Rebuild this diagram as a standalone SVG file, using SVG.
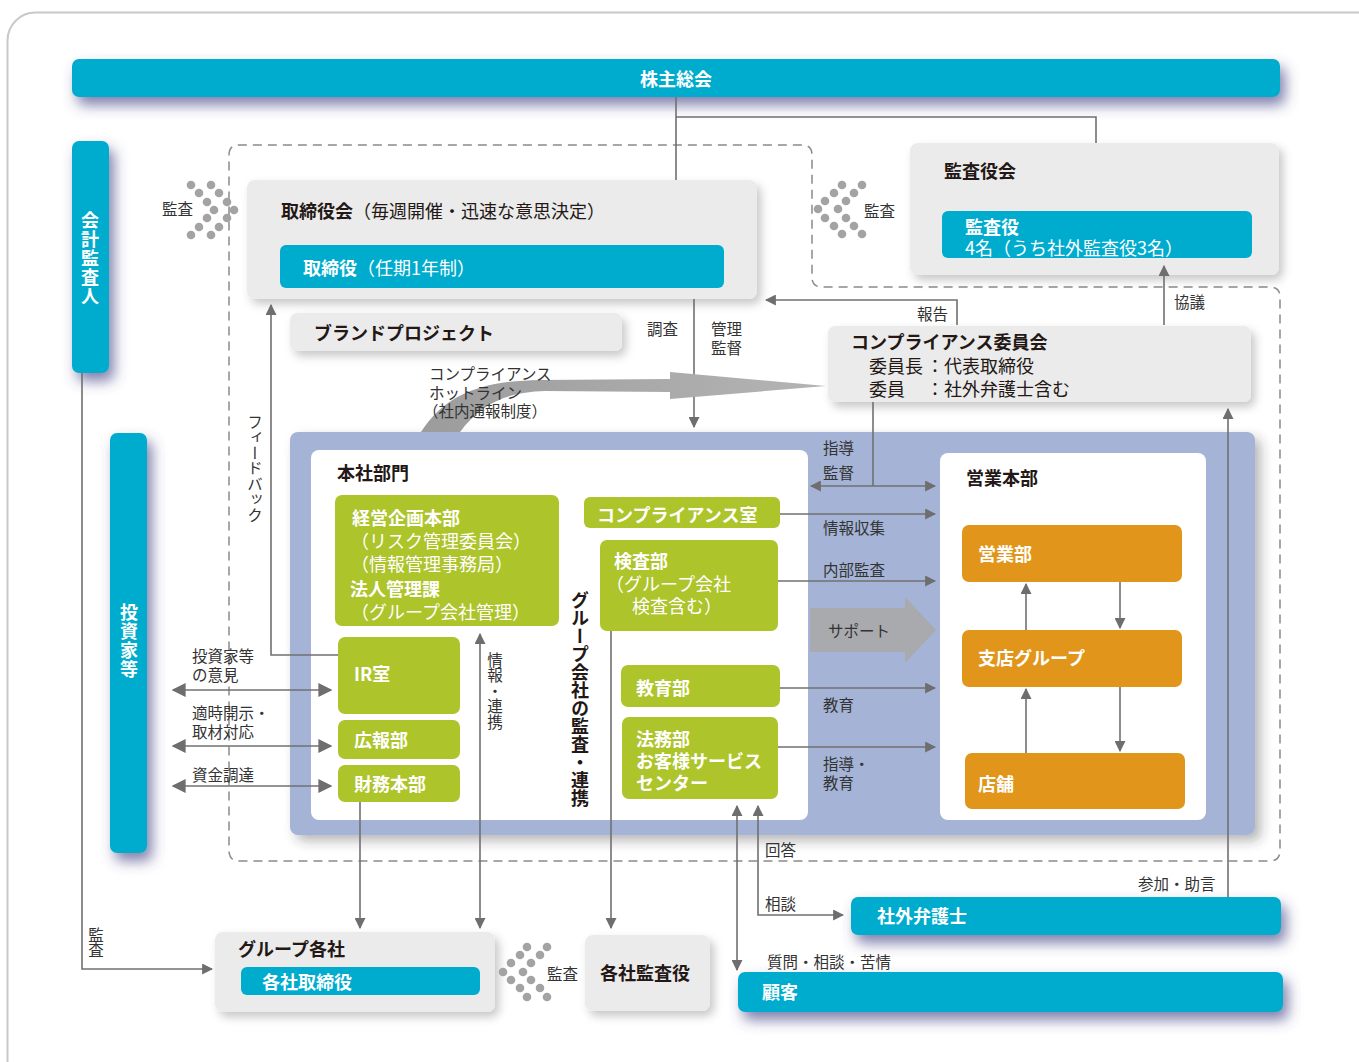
<svg xmlns="http://www.w3.org/2000/svg" width="1359" height="1062" viewBox="0 0 1359 1062">
<style>
text{font-family:"Noto Sans CJK JP","Noto Sans",sans-serif;dominant-baseline:central}
.b{font-weight:bold}
.t18{font-size:18px;fill:#231815}
.w{fill:#fff}
.lb{font-size:15.5px;fill:#333}
.v{writing-mode:vertical-rl}
.cy{fill:#00acce}
.gr{fill:#ebebeb}
.gn{fill:#adc42b}
.or{fill:#e1961b}
.ln{fill:none;stroke:#707070;stroke-width:1.6}
.dot{fill:#a3a3a3}
</style>
<defs>
<filter id="shC" x="-50%" y="-30%" width="250%" height="200%"><feDropShadow dx="5" dy="8" stdDeviation="7" flood-color="#4a4a8a" flood-opacity="0.7"/></filter>
<filter id="shG" x="-20%" y="-20%" width="150%" height="160%"><feDropShadow dx="4" dy="5" stdDeviation="5" flood-color="#000" flood-opacity="0.22"/></filter>
<filter id="shP" x="-10%" y="-10%" width="130%" height="130%"><feDropShadow dx="6" dy="6" stdDeviation="6" flood-color="#333" flood-opacity="0.35"/></filter>
<marker id="ah" viewBox="0 0 10 10" refX="9" refY="5" markerWidth="11" markerHeight="11" markerUnits="userSpaceOnUse" orient="auto-start-reverse"><path d="M0,0 L10,5 L0,10 Z" fill="#6e6e6e"/></marker>
<marker id="ahL" viewBox="0 0 10 10" refX="9" refY="5" markerWidth="14" markerHeight="14" markerUnits="userSpaceOnUse" orient="auto-start-reverse"><path d="M0,0 L10,5 L0,10 Z" fill="#6e6e6e"/></marker>
<linearGradient id="hot" x1="0" y1="0" x2="1" y2="0"><stop offset="0" stop-color="#9c9c9c"/><stop offset="1" stop-color="#b4b4b4"/></linearGradient>
</defs>

<rect x="7.5" y="12.5" width="1420" height="1100" rx="28" fill="#fff" stroke="#c8c8c8" stroke-width="2"/>

<path d="M229,155 Q229,145 239,145 H802 Q812,145 812,155 V277 Q812,287 822,287 H1270 Q1280,287 1280,297 V850 Q1280,861 1270,861 H239 Q229,861 229,850 Z" fill="none" stroke="#8a8a8a" stroke-width="1.5" stroke-dasharray="9,6"/>

<g id="kabunushi"><rect x="72" y="59" width="1208" height="38" rx="7" class="cy" filter="url(#shC)"/><text x="676" y="78" class="t18 b w" text-anchor="middle">株主総会</text></g>

<g id="kaikei"><rect x="72" y="141" width="37" height="232" rx="7" class="cy" filter="url(#shC)"/><text x="90" y="211" class="t18 b w v" letter-spacing="1">会計監査人</text></g>

<g id="toshika"><rect x="110" y="433" width="37" height="420" rx="7" class="cy" filter="url(#shC)"/><text x="129" y="603" class="t18 b w v" letter-spacing="1">投資家等</text></g>

<g id="torishimariyakukai"><rect x="247" y="180" width="510" height="119" rx="8" class="gr" filter="url(#shG)"/><text x="281" y="210" class="t18"><tspan class="b">取締役会</tspan>（毎週開催・迅速な意思決定）</text>
<rect x="280" y="245" width="444" height="43" rx="6" class="cy"/><text x="303" y="267" class="t18 w"><tspan class="b">取締役</tspan>（任期1年制）</text></g>

<g id="kansayakukai"><rect x="910" y="143" width="369" height="132" rx="8" class="gr" filter="url(#shG)"/><text x="944" y="170" class="t18 b">監査役会</text>
<rect x="942" y="211" width="310" height="47" rx="6" class="cy"/><text x="965" y="226" class="t18 b w">監査役</text><text x="965" y="247" class="t18 w">4名（うち社外監査役3名）</text></g>

<g id="brand"><rect x="290" y="313" width="332" height="38" rx="7" class="gr" filter="url(#shG)"/><text x="314" y="332" class="t18 b">ブランドプロジェクト</text></g>

<g id="compliance-iinkai"><rect x="828" y="326" width="423" height="76" rx="7" class="gr" filter="url(#shG)"/><text x="851" y="341" class="t18 b">コンプライアンス委員会</text>
<text x="869" y="365" class="t18">委員長</text><text x="926" y="365" class="t18">：代表取締役</text>
<text x="869" y="388" class="t18">委員</text><text x="926" y="388" class="t18">：社外弁護士含む</text></g>

<g id="panel"><rect x="290" y="432" width="965" height="403" rx="8" fill="#a4b3d6" filter="url(#shP)"/></g>

<g id="honsha"><rect x="311" y="450" width="497" height="370" rx="8" fill="#fff"/><text x="337" y="472" class="t18 b">本社部門</text></g>
<g id="eigyohonbu"><rect x="940" y="453" width="266" height="367" rx="8" fill="#fff"/><text x="966" y="477" class="t18 b">営業本部</text></g>

<g id="keiei"><rect x="335" y="495" width="224" height="131" rx="7" class="gn"/><text x="352" y="517" class="t18 b w">経営企画本部</text><text x="351" y="540" class="t18 w">（リスク管理委員会）</text><text x="351" y="563" class="t18 w">（情報管理事務局）</text><text x="350" y="588" class="t18 b w">法人管理課</text><text x="351" y="611" class="t18 w">（グループ会社管理）</text></g>
<g id="ir"><rect x="338" y="637" width="122" height="77" rx="7" class="gn"/><text x="354" y="673" class="t18 b w">IR室</text></g>
<g id="koho"><rect x="338" y="720" width="122" height="39" rx="7" class="gn"/><text x="354" y="739" class="t18 b w">広報部</text></g>
<g id="zaimu"><rect x="338" y="765" width="122" height="37" rx="7" class="gn"/><text x="354" y="783" class="t18 b w">財務本部</text></g>
<g id="compliance-shitsu"><rect x="584" y="497" width="196" height="31" rx="6" class="gn"/><text x="597" y="514" class="t18 b w">コンプライアンス室</text></g>
<g id="kensa"><rect x="600" y="540" width="178" height="91" rx="7" class="gn"/><text x="614" y="560" class="t18 b w">検査部</text><text x="606" y="583" class="t18 w">（グループ会社</text><text x="632" y="605" class="t18 w">検査含む）</text></g>
<g id="kyoiku"><rect x="621" y="665" width="159" height="42" rx="7" class="gn"/><text x="636" y="687" class="t18 b w">教育部</text></g>
<g id="homu"><rect x="622" y="717" width="156" height="82" rx="7" class="gn"/><text x="636" y="738" class="t18 b w">法務部</text><text x="636" y="760" class="t18 b w">お客様サービス</text><text x="636" y="782" class="t18 b w">センター</text></g>
<text x="580" y="591" class="t18 b v">グループ会社の監査・連携</text>

<g id="eigyobu"><rect x="962" y="525" width="220" height="57" rx="7" class="or"/><text x="978" y="553" class="t18 b w">営業部</text></g>
<g id="shiten"><rect x="962" y="630" width="220" height="57" rx="7" class="or"/><text x="978" y="657" class="t18 b w">支店グループ</text></g>
<g id="tenpo"><rect x="965" y="753" width="220" height="56" rx="7" class="or"/><text x="978" y="783" class="t18 b w">店舗</text></g>

<g id="bengoshi"><rect x="851" y="897" width="430" height="38" rx="7" class="cy" filter="url(#shC)"/><text x="877" y="915" class="t18 b w">社外弁護士</text></g>
<g id="kokyaku"><rect x="738" y="972" width="545" height="40" rx="7" class="cy" filter="url(#shC)"/><text x="762" y="991" class="t18 b w">顧客</text></g>

<g id="group"><rect x="215" y="932" width="280" height="80" rx="8" class="gr" filter="url(#shG)"/><text x="238" y="948" class="t18 b">グループ各社</text>
<rect x="241" y="967" width="239" height="28" rx="6" class="cy"/><text x="262" y="981" class="t18 b w">各社取締役</text></g>
<g id="kakusha-kansa"><rect x="585" y="935" width="125" height="76" rx="8" class="gr" filter="url(#shG)"/><text x="600" y="972" class="t18 b">各社監査役</text></g>

<g id="connectors">
<path class="ln" d="M676,97 V180 M676,117 H1096 V143"/>
<path class="ln" d="M694,299 V427" marker-end="url(#ah)"/>
<path class="ln" d="M957,325 V300 H766" marker-end="url(#ah)"/>
<path class="ln" d="M1164,325 V266" stroke-width="2.2" marker-end="url(#ah)"/>
<path class="ln" d="M338,655 H271 V305" marker-end="url(#ah)"/>
<path class="ln" d="M873,402 V486"/>
<path class="ln" d="M811,486 H935" marker-start="url(#ah)" marker-end="url(#ah)"/>
<path class="ln" d="M780,514 H935" marker-end="url(#ah)"/>
<path class="ln" d="M778,581 H935" marker-end="url(#ah)"/>
<path class="ln" d="M780,688 H935" marker-end="url(#ah)"/>
<path class="ln" d="M778,747 H935" marker-end="url(#ah)"/>
<path class="ln" d="M1026,630 V584" marker-end="url(#ah)"/>
<path class="ln" d="M1120,582 V628" marker-end="url(#ah)"/>
<path class="ln" d="M1026,753 V689" marker-end="url(#ah)"/>
<path class="ln" d="M1120,687 V751" marker-end="url(#ah)"/>
<path class="ln" d="M173,690 H331" marker-start="url(#ahL)" marker-end="url(#ahL)"/>
<path class="ln" d="M173,746 H331" stroke-width="2.2" marker-start="url(#ahL)" marker-end="url(#ahL)"/>
<path class="ln" d="M173,786 H331" stroke-width="2.2" marker-start="url(#ahL)" marker-end="url(#ahL)"/>
<path class="ln" d="M360,802 V928" marker-end="url(#ah)"/>
<path class="ln" d="M480,634 V928" marker-start="url(#ah)" marker-end="url(#ah)"/>
<path class="ln" d="M611,631 V928" marker-end="url(#ah)"/>
<path class="ln" d="M737,806 V970" marker-start="url(#ah)" marker-end="url(#ah)"/>
<path class="ln" d="M758,806 V915 H843" marker-start="url(#ah)" marker-end="url(#ah)"/>
<path class="ln" d="M1228,897 V409" marker-end="url(#ah)"/>
<path class="ln" d="M82,373 V969 H212" marker-end="url(#ah)"/>
<path d="M421,432 C445,395 480,381 540,380 L670,379 L670,372 L826,386 L670,399 L670,392 L545,391 C505,392 480,405 460,432 Z" fill="url(#hot)"/>
<path d="M810,608 H905 V597 L936,630 L905,663 V652 H810 Z" fill="#a9aaad"/>
</g>

<g id="dots">
<circle class="dot" cx="191" cy="185" r="4.3"/><circle class="dot" cx="211" cy="185" r="4.3"/><circle class="dot" cx="199" cy="193" r="4.3"/><circle class="dot" cx="219" cy="193" r="4.3"/><circle class="dot" cx="207" cy="202" r="4.3"/><circle class="dot" cx="227" cy="202" r="4.3"/><circle class="dot" cx="214" cy="210" r="4.3"/><circle class="dot" cx="234" cy="210" r="4.3"/><circle class="dot" cx="207" cy="218" r="4.3"/><circle class="dot" cx="227" cy="218" r="4.3"/><circle class="dot" cx="199" cy="227" r="4.3"/><circle class="dot" cx="219" cy="227" r="4.3"/><circle class="dot" cx="191" cy="235" r="4.3"/><circle class="dot" cx="211" cy="235" r="4.3"/>
<circle class="dot" cx="842" cy="185" r="4.3"/><circle class="dot" cx="862" cy="185" r="4.3"/><circle class="dot" cx="834" cy="193" r="4.3"/><circle class="dot" cx="854" cy="193" r="4.3"/><circle class="dot" cx="825" cy="201" r="4.3"/><circle class="dot" cx="846" cy="201" r="4.3"/><circle class="dot" cx="818" cy="209" r="4.3"/><circle class="dot" cx="838" cy="209" r="4.3"/><circle class="dot" cx="825" cy="218" r="4.3"/><circle class="dot" cx="846" cy="218" r="4.3"/><circle class="dot" cx="834" cy="226" r="4.3"/><circle class="dot" cx="854" cy="226" r="4.3"/><circle class="dot" cx="842" cy="234" r="4.3"/><circle class="dot" cx="862" cy="234" r="4.3"/>
<circle class="dot" cx="527" cy="947" r="4.3"/><circle class="dot" cx="547" cy="947" r="4.3"/><circle class="dot" cx="520" cy="955" r="4.3"/><circle class="dot" cx="540" cy="955" r="4.3"/><circle class="dot" cx="511" cy="963" r="4.3"/><circle class="dot" cx="531" cy="963" r="4.3"/><circle class="dot" cx="503" cy="972" r="4.3"/><circle class="dot" cx="523" cy="972" r="4.3"/><circle class="dot" cx="511" cy="980" r="4.3"/><circle class="dot" cx="531" cy="980" r="4.3"/><circle class="dot" cx="520" cy="988" r="4.3"/><circle class="dot" cx="540" cy="988" r="4.3"/><circle class="dot" cx="527" cy="997" r="4.3"/><circle class="dot" cx="547" cy="997" r="4.3"/>
</g>

<g id="labels">
<text x="162" y="208" class="lb">監査</text>
<text x="864" y="210" class="lb">監査</text>
<text x="647" y="328" class="lb">調査</text>
<text x="711" y="328" class="lb">管理</text><text x="711" y="347" class="lb">監督</text>
<text x="917" y="313" class="lb">報告</text>
<text x="1174" y="301" class="lb">協議</text>
<text x="429" y="373" class="lb">コンプライアンス</text>
<text x="429" y="392" class="lb">ホットライン</text>
<text x="423" y="410" class="lb">（社内通報制度）</text>
<text x="255" y="414" class="lb v">フィードバック</text>
<text x="823" y="447" class="lb">指導</text><text x="823" y="472" class="lb">監督</text>
<text x="823" y="527" class="lb">情報収集</text>
<text x="823" y="569" class="lb">内部監査</text>
<text x="828" y="630" class="lb" fill="#555">サポート</text>
<text x="823" y="704" class="lb">教育</text>
<text x="823" y="763" class="lb">指導・</text><text x="823" y="782" class="lb">教育</text>
<text x="192" y="655" class="lb">投資家等</text><text x="192" y="674" class="lb">の意見</text>
<text x="192" y="712" class="lb">適時開示・</text><text x="192" y="731" class="lb">取材対応</text>
<text x="192" y="774" class="lb">資金調達</text>
<text x="495" y="652" class="lb v">情報・連携</text>
<text x="765" y="849" class="lb">回答</text>
<text x="765" y="903" class="lb">相談</text>
<text x="1138" y="883" class="lb">参加・助言</text>
<text x="767" y="961" class="lb">質問・相談・苦情</text>
<text x="96" y="927" class="lb v">監査</text>
<text x="547" y="973" class="lb">監査</text>
</g>
</svg>
